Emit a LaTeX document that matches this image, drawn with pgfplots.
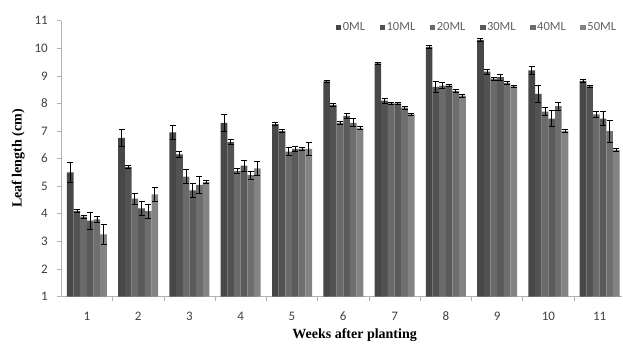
\documentclass[border=0pt]{standalone}
\usepackage{pgfplots}
\pgfplotsset{compat=1.18}
\usepackage{pgfplotstable}
\usepackage{fontspec}
\setmainfont{Carlito}
\newfontfamily\serifb{Liberation Serif}

\definecolor{c0}{HTML}{474747}
\definecolor{c1}{HTML}{525252}
\definecolor{c2}{HTML}{6A6A6A}
\definecolor{c3}{HTML}{5A5A5A}
\definecolor{c4}{HTML}{6E6E6E}
\definecolor{c5}{HTML}{838383}

\pgfplotstableread{
w  m0    e0   m1   e1   m2   e2   m3   e3   m4   e4   m5   e5
1  5.50  0.35 4.10 0.05 3.90 0.05 3.75 0.30 3.80 0.10 3.25 0.35
2  6.75  0.30 5.70 0.05 4.55 0.20 4.20 0.25 4.10 0.25 4.70 0.25
3  6.95  0.25 6.15 0.10 5.35 0.25 4.85 0.25 5.05 0.30 5.15 0.05
4  7.30  0.30 6.60 0.10 5.55 0.10 5.75 0.20 5.40 0.15 5.65 0.25
5  7.25  0.05 7.00 0.05 6.25 0.15 6.35 0.10 6.35 0.05 6.35 0.25
6  8.80  0.05 7.95 0.05 7.30 0.05 7.55 0.10 7.30 0.15 7.10 0.05
7  9.45  0.05 8.10 0.10 8.00 0.05 8.00 0.05 7.85 0.05 7.60 0.05
8  10.05 0.05 8.60 0.20 8.65 0.10 8.65 0.05 8.45 0.05 8.28 0.05
9  10.30 0.05 9.15 0.10 8.90 0.05 8.95 0.10 8.75 0.05 8.62 0.05
10 9.20  0.15 8.35 0.30 7.70 0.15 7.45 0.30 7.90 0.15 7.00 0.05
11 8.82  0.05 8.62 0.05 7.60 0.12 7.45 0.25 7.00 0.40 6.32 0.05
}\data

\pgfplotsset{
  errstyle/.style={
    error bars/.cd, y dir=both, y explicit,
    error bar style={black, line width=0.8pt},
    error mark options={rotate=90, mark size=3pt, black, line width=0.8pt}
  }
}

\begin{document}
\begin{tikzpicture}
\begin{axis}[
  scale only axis, width=561.2pt, height=276pt,
  xmin=0.5, xmax=11.44, ymin=1, ymax=11,
  ybar=0pt, bar width=6.67pt,
  axis lines=left, axis line style={-, draw=gray!60, line width=0.6pt},
  xtick={1,...,11},
  major x tick style={draw=none},
  minor xtick={1.5,2.5,...,10.5},
  minor tick length=4pt,
  ytick={1,...,11},
  major tick length=4pt,
  tick align=outside,
  tick style={draw=gray!60, line width=0.6pt},
  /pgf/number format/assume math mode=true,
  ticklabel style={font=\fontsize{13}{15}\selectfont, text=black!75},
  xticklabel style={yshift=-8pt},
  yticklabel style={xshift=-6pt},
  xlabel={Weeks after planting},
  ylabel={Leaf length (cm)},
  every axis x label/.style={at={(axis description cs:0.523,0)}, anchor=center, yshift=-39pt,
     font=\serifb\bfseries\fontsize{14}{16}\selectfont},
  every axis y label/.style={at={(axis description cs:-0.0766,0.5)}, anchor=center, rotate=90,
     font=\serifb\bfseries\fontsize{14}{16}\selectfont},
  legend columns=6,
  legend image code/.code={\fill[#1,draw=none] (0pt,-2.8pt) rectangle (5.6pt,2.8pt);},
  legend style={at={(rel axis cs:0.992,0.9746)}, anchor=east, draw=none, fill=none,
     inner sep=0pt, font=\fontsize{12.5}{14}\selectfont, text=black!62,
     /tikz/every even column/.append style={column sep=13pt},
     nodes={inner sep=1.5pt}},
  clip=true,
]
\addplot[fill=c0, draw=none, errstyle] table[x=w, y=m0, y error=e0] {\data};
\addplot[fill=c1, draw=none, errstyle] table[x=w, y=m1, y error=e1] {\data};
\addplot[fill=c2, draw=none, errstyle] table[x=w, y=m2, y error=e2] {\data};
\addplot[fill=c3, draw=none, errstyle] table[x=w, y=m3, y error=e3] {\data};
\addplot[fill=c4, draw=none, errstyle] table[x=w, y=m4, y error=e4] {\data};
\addplot[fill=c5, draw=none, errstyle] table[x=w, y=m5, y error=e5] {\data};
\legend{0ML,10ML,20ML,30ML,40ML,50ML}
\end{axis}
\pgfresetboundingbox
\path ([shift={(-61.3pt,-47.3pt)}]current axis.south west) rectangle ([shift={(0.8pt,20.7pt)}]current axis.north east);
\end{tikzpicture}
\end{document}
